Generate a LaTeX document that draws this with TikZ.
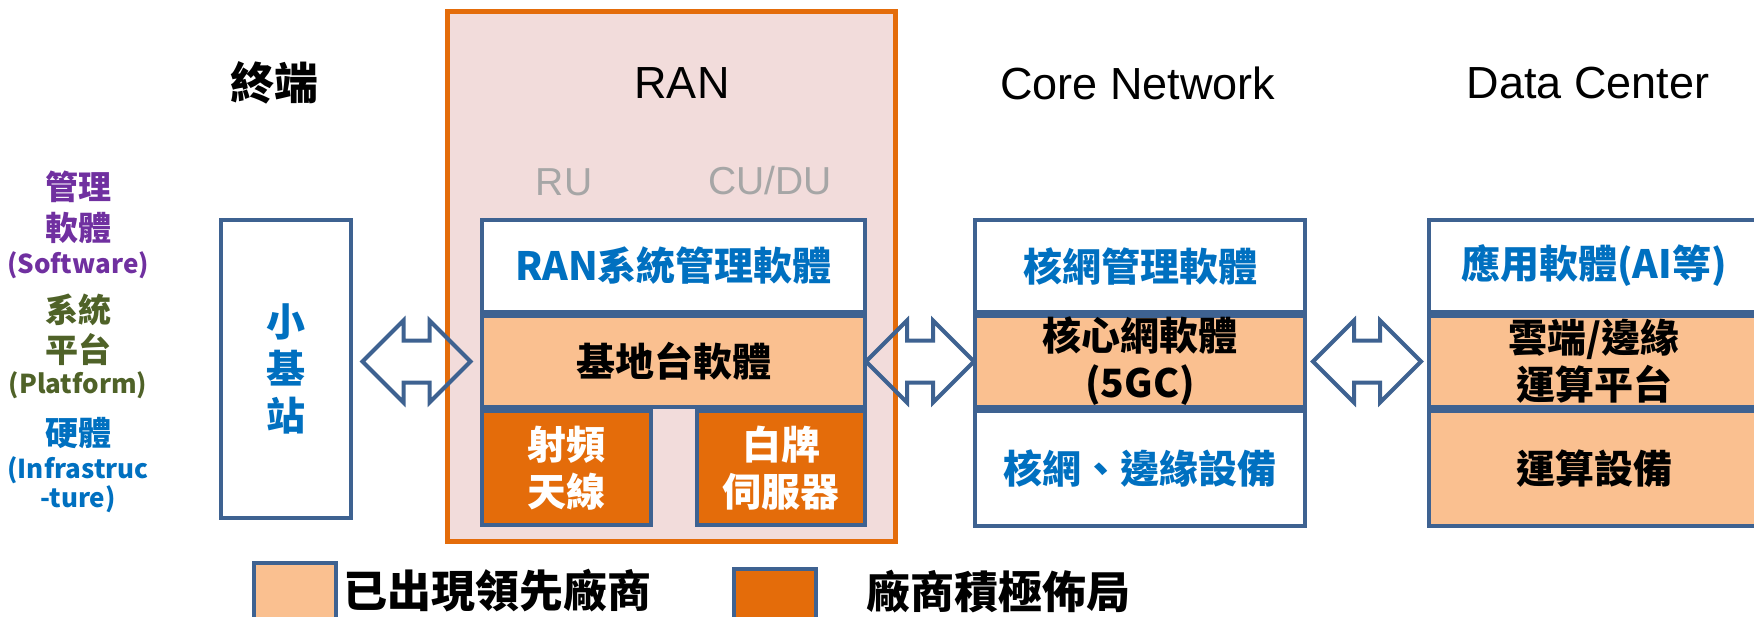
\documentclass[tikz,border=0pt]{standalone}
\usepackage{fontspec}
\setmainfont{Noto Sans CJK TC}
\newfontfamily\arialfont{Liberation Sans}
\usetikzlibrary{shapes.arrows,calc,positioning}

\definecolor{boxblue}{RGB}{62,98,145}
\definecolor{textblue}{RGB}{0,112,192}
\definecolor{lightorange}{RGB}{250,192,144}
\definecolor{darkorange}{RGB}{228,108,10}
\definecolor{ranpink}{RGB}{242,220,219}
\definecolor{rangrey}{RGB}{166,166,166}
\definecolor{swpurple}{RGB}{112,48,160}
\definecolor{pfolive}{RGB}{79,98,40}

\tikzset{
    tier/.style = {draw=boxblue, line width=2pt, rectangle, inner sep=0pt,
        align=center, font=\bfseries\fontsize{19.5}{23.5}\selectfont},
    swtier/.style = {tier, fill=white, text=textblue},
    pftier/.style = {tier, fill=lightorange},
    hwtier/.style = {tier, fill=darkorange, text=white},
    title/.style = {font=\arialfont\fontsize{22.5}{27}\selectfont},
    subtitle/.style = {font=\arialfont\fontsize{19.5}{23}\selectfont, text=rangrey},
    layername/.style = {font=\bfseries\fontsize{16.5}{20}\selectfont},
    layernote/.style = {font=\bfseries\fontsize{13}{15}\selectfont},
    dblarrow/.style = {double arrow, draw=boxblue, line width=2pt,
        inner xsep=0pt, inner ysep=9.5pt, double arrow head extend=10pt,
        minimum height=54pt},
    legendbox/.style = {draw=boxblue, line width=2pt,
        minimum width=41pt, minimum height=30pt, anchor=north west},
    legendtext/.style = {font=\bfseries\fontsize{22}{26}\selectfont,
        inner sep=0pt, anchor=west},
}

\begin{document}
\begin{tikzpicture}[x=0.5pt, y=-0.5pt]
		\useasboundingbox (0,0) rectangle (1754,616);
		\clip (0,0) rectangle (1754,616);
		
		% RAN frame, drawn first so the stack sits on it
		\node [draw=darkorange, fill=ranpink, line width=2.5pt,
		       minimum width=224pt, minimum height=265pt] (ranframe) at (671,276) {};
		
		%% column titles
		\node [font=\bfseries\fontsize{22}{26}\selectfont] (tterm) at (274,83) {終端};
		\node [title] (tran) at (682,83) {RAN};
		\node [title] (tcore) at (1138,83) {Core Network};
		\node [title] (tdc) at (1588,83) {Data Center};
		\node [subtitle] (tru) at (564,182) {RU};
		\node [subtitle] (tcudu) at (770,181) {CU/DU};
		
		%% layer names on the left
		\node [layername, text=swpurple] (swname1) at (78,187) {管理};
		\node [layername, text=swpurple] (swname2) at (78,228) {軟體};
		\node [layernote, text=swpurple] (swnote) at (78,265) {(Software)};
		\node [layername, text=pfolive] (pfname1) at (78,310) {系統};
		\node [layername, text=pfolive] (pfname2) at (78,350) {平台};
		\node [layernote, text=pfolive] (pfnote) at (78,385) {(Platform)};
		\node [layername, text=textblue] (hwname) at (78,433) {硬體};
		\node [layernote, text=textblue] (hwnote1) at (78,470) {(Infrastruc};
		\node [layernote, text=textblue] (hwnote2) at (78,499) {-ture)};
		
		% small cell
		\node [swtier, minimum width=65pt, minimum height=149pt] (smallcell) at (286,369) {小\\基\\站};
		
		% RAN stack
		\node [swtier, minimum width=191.5pt, minimum height=46pt] (ransw) at (673.5,266) {RAN系統管理軟體};
		\node [pftier, minimum width=191.5pt, minimum height=45.5pt, below=0pt of ransw] (ranbs) {基地台軟體};
		\node [hwtier, minimum width=84.5pt, minimum height=57pt, anchor=north west] (rfant) at (ranbs.south west) {射頻\\天線};
		\node [hwtier, minimum width=84pt, minimum height=57pt, anchor=north east] (wbserver) at (ranbs.south east) {白牌\\伺服器};
		
		% core network stack
		\node [swtier, minimum width=165pt, minimum height=46pt] (coresw) at (1140,266) {核網管理軟體};
		\node [pftier, minimum width=165pt, minimum height=45.5pt, below=0pt of coresw] (corepf) {核心網軟體\\(5GC)};
		\node [swtier, minimum width=165pt, minimum height=57.5pt, below=0pt of corepf] (corehw) {核網、邊緣設備};
		
		% data center stack
		\node [swtier, minimum width=165pt, minimum height=46pt] (dcsw) at (1594,266) {應用軟體(AI等)};
		\node [pftier, minimum width=165pt, minimum height=45.5pt, below=0pt of dcsw] (dcpf) {雲端/邊緣\\運算平台};
		\node [pftier, minimum width=165pt, minimum height=57.5pt, below=0pt of dcpf] (dchw) {運算設備};
		
		%% links between the stacks
		\node [dblarrow] (linkran) at ($(smallcell.east |- ranbs.west)!0.5!(ranbs.west)$) {};
		\node [dblarrow] (linkcore) at ($(ranbs.east)!0.5!(corepf.west)$) {};
		\node [dblarrow] (linkdc) at ($(corepf.east)!0.5!(dcpf.west)$) {};
		
		%% legend
		\node [legendbox, fill=lightorange] (keyled) at (252,561) {};
		\node [legendtext] (keyledtext) at (343,591) {已出現領先廠商};
		\node [legendbox, fill=darkorange] (keyactive) at (732,567) {};
		\node [legendtext] (keyactivetext) at (866,592) {廠商積極佈局};

	\end{tikzpicture}
\end{document}
